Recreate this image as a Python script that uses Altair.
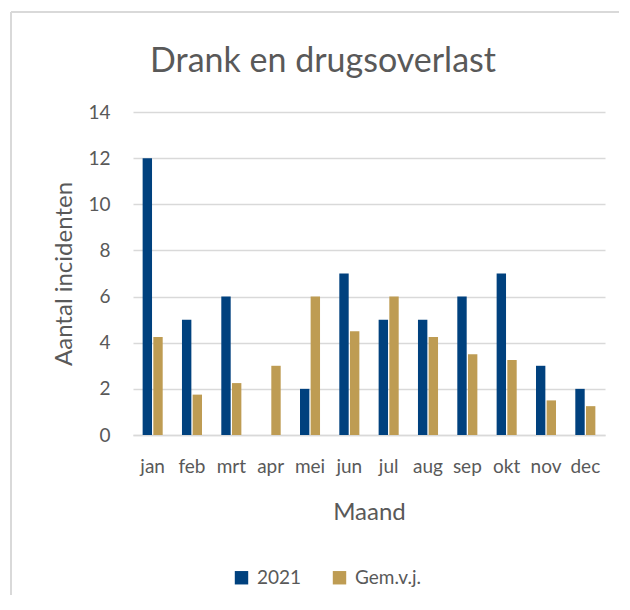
import altair as alt
import pandas as pd

months = ["jan", "feb", "mrt", "apr", "mei", "jun", "jul", "aug", "sep", "okt", "nov", "dec"]
series_names = ["2021", "Gem.v.j."]
v2021 = [12, 5, 6, 0, 2, 7, 5, 5, 6, 7, 3, 2]
vgem = [4.25, 1.75, 2.25, 3, 6, 4.5, 6, 4.25, 3.5, 3.25, 1.5, 1.25]
colors = ["#00417E", "#BE9C53"]
chart_title = ["Drank en drugsoverlast"]

rows = []
for m, a, b in zip(months, v2021, vgem):
    rows.append({"Maand": m, "Reeks": series_names[0], "Waarde": a})
    rows.append({"Maand": m, "Reeks": series_names[1], "Waarde": b})
df = pd.DataFrame(rows)

FONT = "Lato"
GREY = "#595959"
FRAME = "#D9D9D9"

bars = alt.Chart(df).mark_bar().encode(
    x=alt.X("Maand:N", sort=months,
            scale=alt.Scale(paddingInner=0.49, paddingOuter=0.245),
            axis=alt.Axis(title="Maand", labelAngle=0, ticks=False, domainColor="#D9D9D9",
                          domainWidth=1.5, labelPadding=22, titlePadding=24)),
    xOffset=alt.XOffset("Reeks:N", sort=series_names, scale=alt.Scale(paddingInner=0.12)),
    y=alt.Y("Waarde:Q", scale=alt.Scale(domain=[0, 14]),
            axis=alt.Axis(title="Aantal incidenten", values=list(range(0, 15, 2)), ticks=False,
                          domain=False, gridColor="#D9D9D9", gridWidth=1.5, labelPadding=23,
                          titlePadding=11)),
    color=alt.Color("Reeks:N", sort=series_names,
                    scale=alt.Scale(domain=series_names, range=colors),
                    legend=alt.Legend(title=None, orient="none", direction="horizontal",
                                      legendX=99, legendY=456,
                                      symbolType="square", symbolSize=180, labelFontSize=19,
                                      labelColor=GREY, labelFont=FONT, columnPadding=28,
                                      symbolStrokeWidth=0, labelOffset=6)),
)

frame_src = pd.DataFrame({"k": [0]})
frame_left = alt.Chart(frame_src).mark_rule(color=FRAME, strokeWidth=2).encode(
    x=alt.value(-122), y=alt.value(-100), y2=alt.value(500)
)
frame_top = alt.Chart(frame_src).mark_rule(color=FRAME, strokeWidth=2).encode(
    x=alt.value(-122), x2=alt.value(490), y=alt.value(-100)
)
title_mark = alt.Chart(pd.DataFrame({"t": chart_title})).mark_text(
    font=FONT, fontSize=34, color=GREY, align="center", baseline="alphabetic"
).encode(x=alt.value(190), y=alt.value(-40), text="t:N")

chart = alt.layer(bars, frame_left, frame_top, title_mark).properties(
    width=472, height=323,
    autosize=alt.AutoSizeParams(type="none"),
    padding={"left": 125, "top": 104, "right": 14, "bottom": 160},
).configure_axis(
    labelFont=FONT, titleFont=FONT, labelFontSize=19, titleFontSize=24,
    labelColor=GREY, titleColor=GREY, titleFontWeight="normal",
).configure_view(stroke=None)

chart.save("out.html", embed_options={"renderer": "svg", "actions": False})
